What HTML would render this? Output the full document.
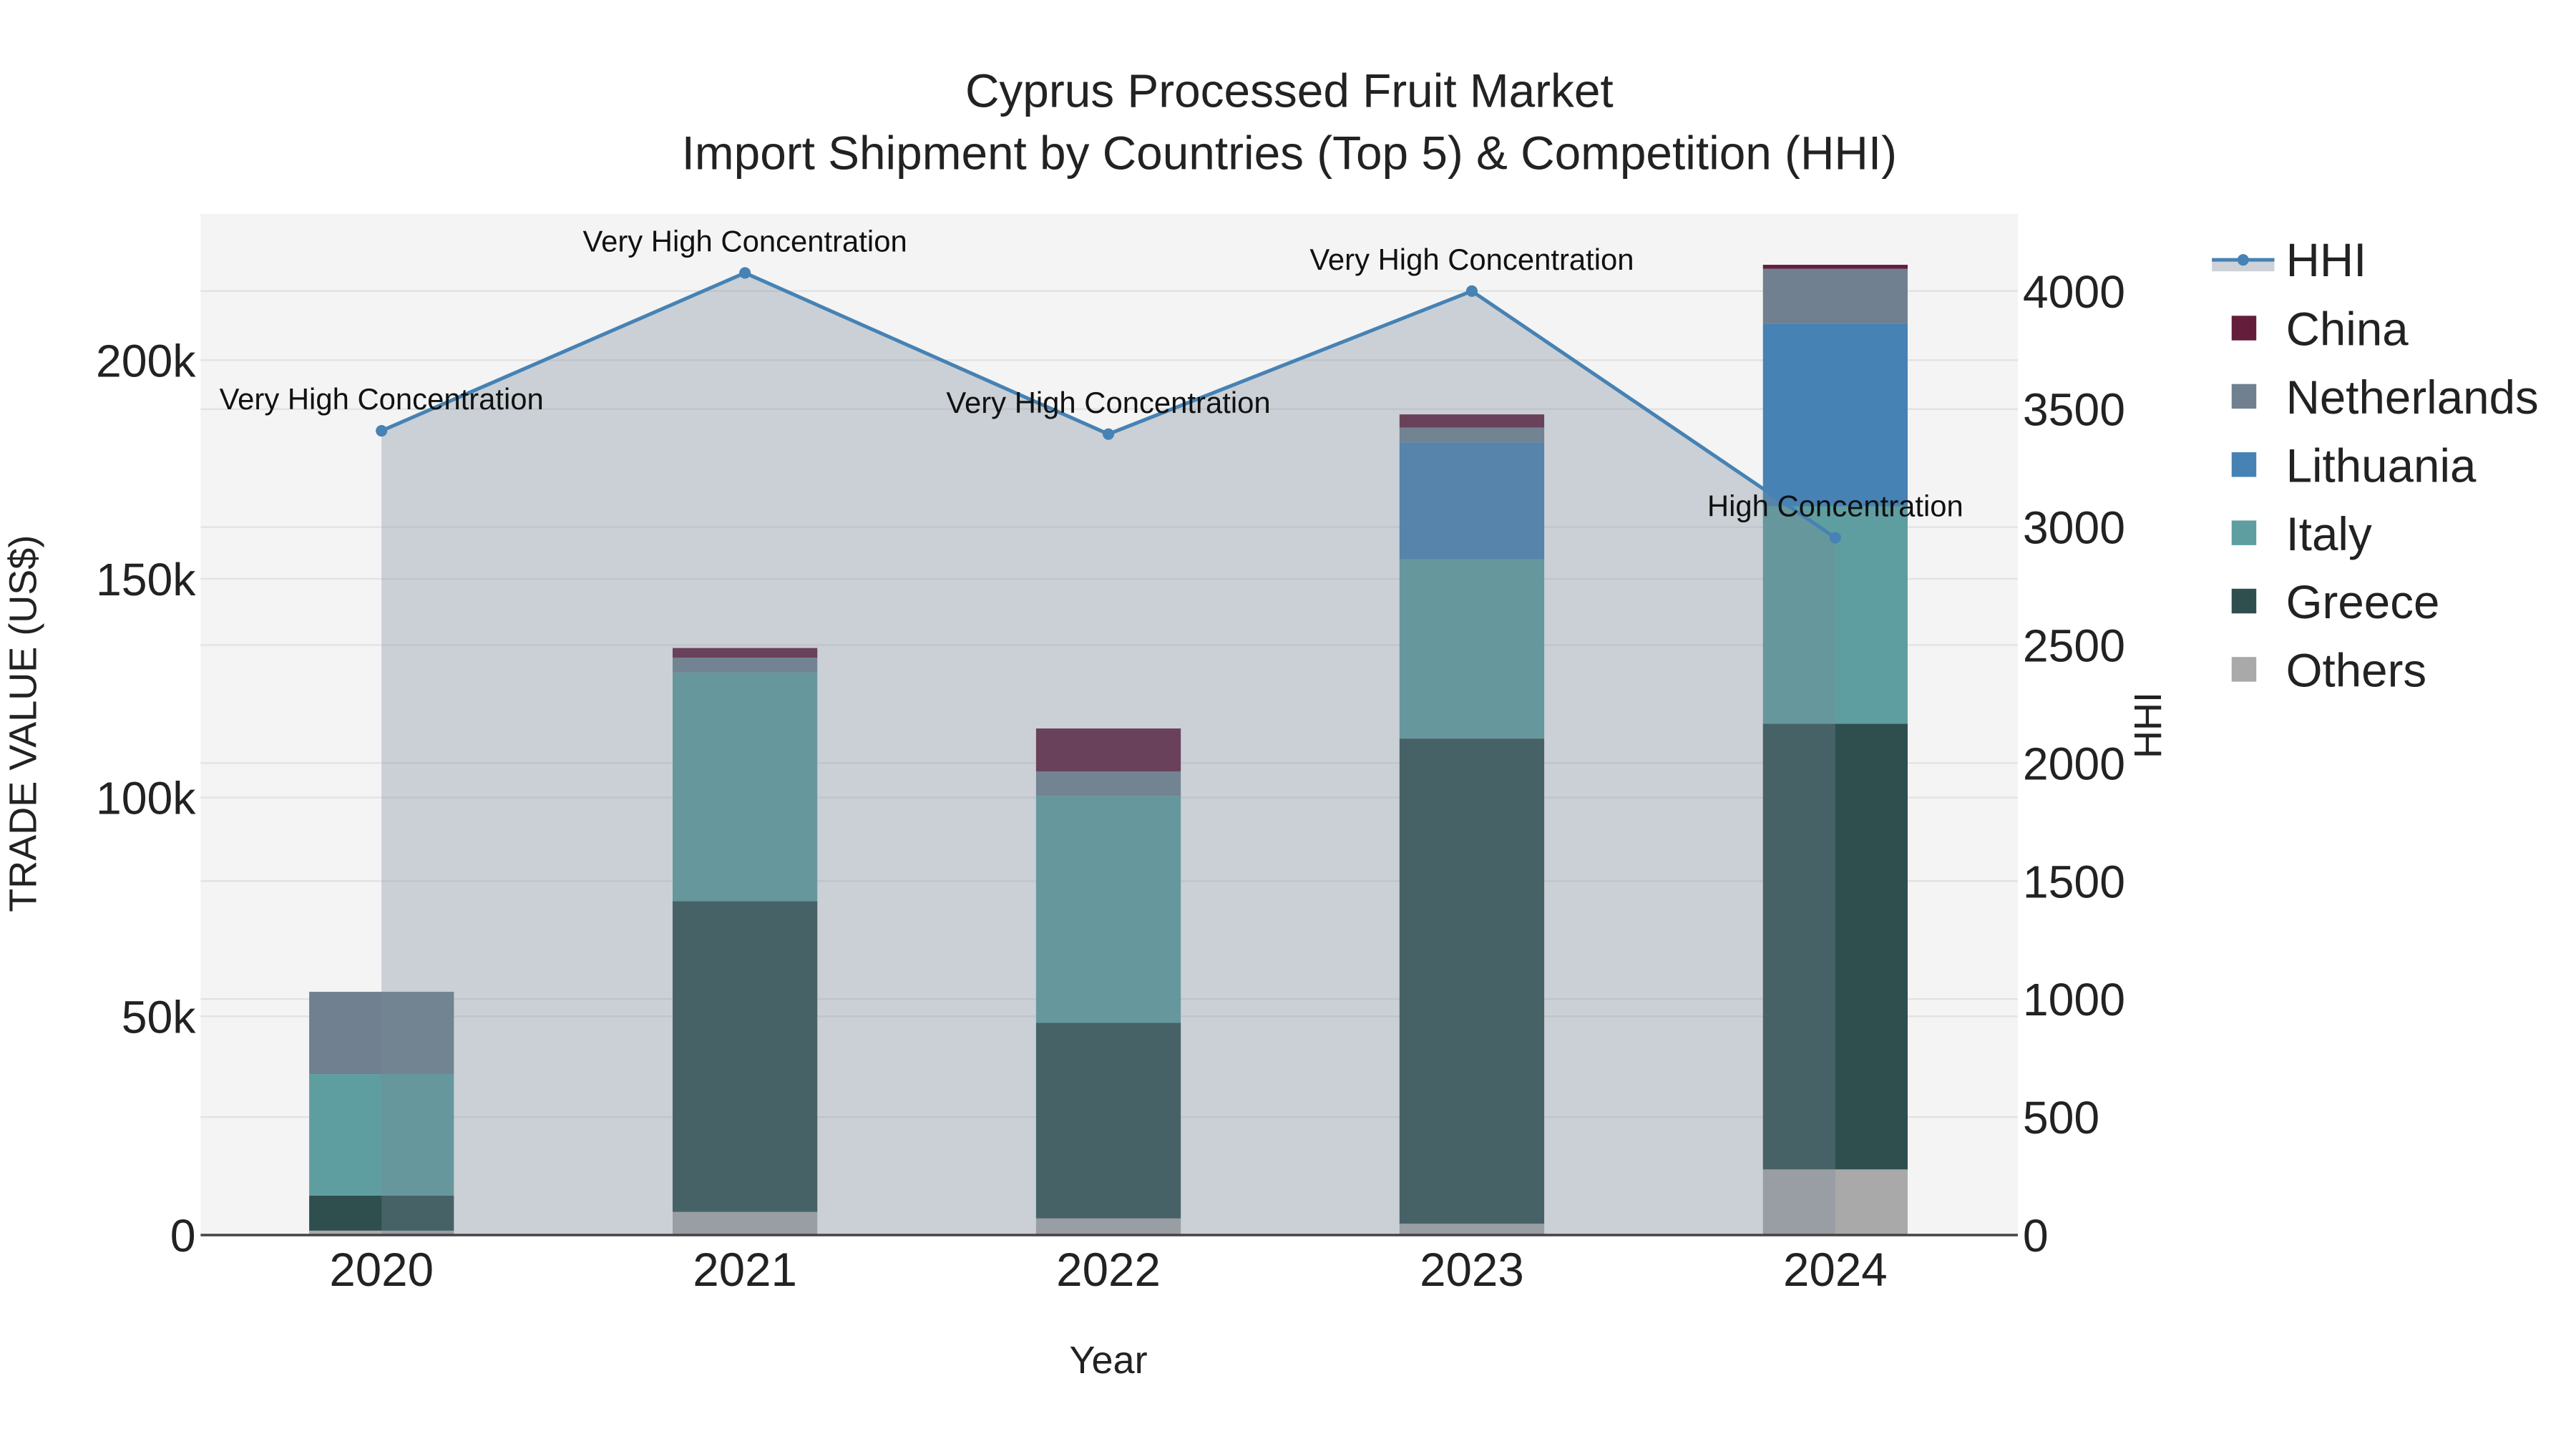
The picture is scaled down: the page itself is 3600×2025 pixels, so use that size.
<!DOCTYPE html>
<html><head><meta charset="utf-8"><style>
html,body{margin:0;padding:0;background:#fff;}
svg{display:block;font-family:"Liberation Sans",sans-serif;}
</style></head><body>
<svg id="chart" width="3600" height="2025" viewBox="0 0 1566.4 881.1" xmlns="http://www.w3.org/2000/svg">
<rect x="122" y="130" width="1105" height="621" fill="#f4f4f4"/>
<g id="grid"></g>
<g id="bars"></g>
<g id="area"></g>
<g id="axes"></g>
<g id="annots"></g>
<text x="784" y="65" font-size="28.6" text-anchor="middle" fill="#222">Cyprus Processed Fruit Market</text>
<text x="784" y="103" font-size="28.6" text-anchor="middle" fill="#222">Import Shipment by Countries (Top 5) &amp; Competition (HHI)</text>
<text x="674" y="835" font-size="23.5" text-anchor="middle" fill="#222">Year</text>
<text x="22" y="440" font-size="23.5" text-anchor="middle" fill="#222" transform="rotate(-90 22 440)">TRADE VALUE (US$)</text>
<text x="1314" y="441" font-size="23.5" text-anchor="middle" fill="#222" transform="rotate(-90 1314 441)">HHI</text>
<g id="legend"></g>
</svg>
<script>
const years = ["2020","2021","2022","2023","2024"];
const others = [1.0, 5.3, 3.8, 2.6, 15.0];
const greece = [8.0, 71.0, 44.7, 110.9, 101.9];
const italy = [27.8, 52.3, 51.9, 41.0, 49.7];
const lithuania = [0, 0, 0, 26.7, 41.7];
const netherlands = [18.8, 3.4, 5.6, 3.4, 12.6];
const china = [0, 2.2, 9.8, 3.0, 0.9];
const hhi = [3408, 4077, 3394, 4000, 2955];
const hhiLabels = ["Very High Concentration","Very High Concentration","Very High Concentration","Very High Concentration","High Concentration"];
const yTicks = [0, 50, 100, 150, 200];
const yTickLabels = ["0","50k","100k","150k","200k"];
const y2Ticks = [0,500,1000,1500,2000,2500,3000,3500,4000];

const NS = "http://www.w3.org/2000/svg";
const L = 122, R = 1227, T = 130, B = 751;
const xPos = i => 232 + i * 221;
const yL = v => B - v * 2.66;
const yR = v => B - v * 574 / 4000;
function mk(tag, attrs, parent){const e=document.createElementNS(NS,tag);for(const k in attrs)e.setAttribute(k,attrs[k]);parent.appendChild(e);return e;}

const grid = document.getElementById('grid');
const axes = document.getElementById('axes');
yTicks.forEach((t,i)=>{
  const g = mk('line',{x1:L,x2:R,y1:yL(t),y2:yL(t),stroke:'#e2e2e2','stroke-width':1},grid);
  
  
  const tx = mk('text',{x:119,y:yL(t)+10,'font-size':28,'text-anchor':'end',fill:'#222'},axes);
  tx.textContent = yTickLabels[i];
  
  
});
y2Ticks.forEach(t=>{
  const g = mk('line',{x1:L,x2:R,y1:yR(t),y2:yR(t),stroke:'#e2e2e2','stroke-width':1},grid);
  
  
  const tx = mk('text',{x:1230,y:yR(t)+10,'font-size':28,'text-anchor':'start',fill:'#222'},axes);
  tx.textContent = String(t);
  
  
});
years.forEach((y,i)=>{
  const tx = mk('text',{x:xPos(i),y:782,'font-size':28.5,'text-anchor':'middle',fill:'#222'},axes);
  tx.textContent = y;
  
  
});
const zl = mk('line',{x1:L,x2:R,y1:B,y2:B,stroke:'#444','stroke-width':1.5},axes);



const series = [
  {name:'Others',vals:others,color:'#a9a9a9'},
  {name:'Greece',vals:greece,color:'#2f4f4f'},
  {name:'Italy',vals:italy,color:'#5f9ea0'},
  {name:'Lithuania',vals:lithuania,color:'#4682b4'},
  {name:'Netherlands',vals:netherlands,color:'#708090'},
  {name:'China',vals:china,color:'#641e3c'}
];
const bars = document.getElementById('bars');
const bw = 88;
years.forEach((y,i)=>{
  let base = 0;
  series.forEach(s=>{
    const v = s.vals[i];
    if (v > 0) {
      const r = mk('rect',{x:xPos(i)-bw/2,y:yL(base+v),width:bw,height:yL(base)-yL(base+v),fill:s.color},bars);
      
      
    }
    base += v;
  });
});

const area = document.getElementById('area');
let d = 'M'+xPos(0)+','+B;
hhi.forEach((v,i)=>{d += ' L'+xPos(i)+','+yR(v);});
d += ' L'+xPos(hhi.length-1)+','+B+' Z';
const ar = mk('path',{d:d,fill:'rgba(119,136,153,0.33)'},area);


const pts = hhi.map((v,i)=>xPos(i)+','+yR(v)).join(' ');
const ln = mk('polyline',{points:pts,fill:'none',stroke:'#4682b4','stroke-width':2.2},area);


const ann = document.getElementById('annots');
hhi.forEach((v,i)=>{
  const c = mk('circle',{cx:xPos(i),cy:yR(v),r:3.5,fill:'#4682b4'},area);
  
  
  const t = mk('text',{x:xPos(i),y:yR(v)-13,'font-size':18.2,'text-anchor':'middle',fill:'#111'},ann);
  t.textContent = hhiLabels[i];
  
  
});

const leg = document.getElementById('legend');
const lb = mk('rect',{x:1345,y:158,width:38,height:7,fill:'#cdd2d8'},leg);


const ll = mk('line',{x1:1345,x2:1383,y1:158,y2:158,stroke:'#4682b4','stroke-width':2.2},leg);


const lc = mk('circle',{cx:1364,cy:158,r:3.5,fill:'#4682b4'},leg);


const lt = mk('text',{x:1390,y:168,'font-size':28.5,fill:'#222'},leg);
lt.textContent = 'HHI';


const legOrder = ['China','Netherlands','Lithuania','Italy','Greece','Others'];
legOrder.forEach((n,k)=>{
  const s = series.find(q=>q.name===n);
  const yy = 200 + k*41.5;
  const sq = mk('rect',{x:1357,y:yy-8,width:15,height:15,fill:s.color},leg);
  
  
  const t = mk('text',{x:1390,y:yy+10,'font-size':28.5,fill:'#222'},leg);
  t.textContent = n;
  
  
});
</script>
</body></html>
